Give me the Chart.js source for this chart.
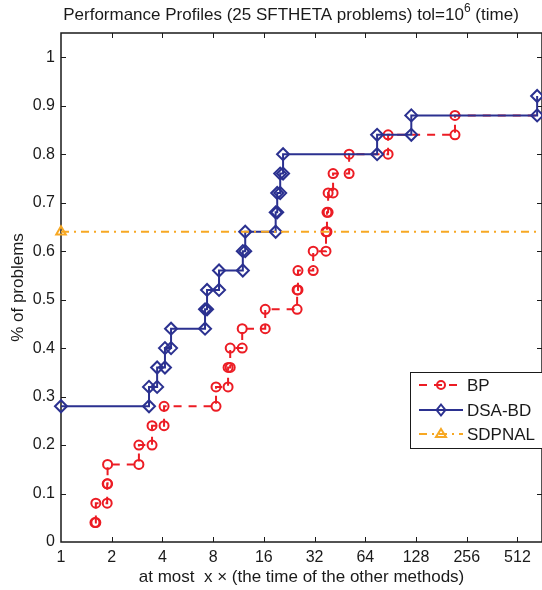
<!DOCTYPE html>
<html>
<head>
<meta charset="utf-8">
<script src="https://cdn.jsdelivr.net/npm/chart.js@4.4.0/dist/chart.umd.min.js"></script>
<style>
  html, body { margin: 0; padding: 0; background: #fff; }
  #wrap { width: 542px; height: 590px; }
</style>
</head>
<body>
<div id="wrap"><canvas id="profileChart" width="542" height="590"></canvas></div>
<script>
const PROBLEMS = 25;
const methodNames = ['BP', 'DSA-BD', 'SDPNAL'];
const methodColors = ['#ec1c24', '#2b3190', '#f7a823'];

// sorted time ratios of the problems each method solved
const bpRatios = [1.59, 1.61, 1.88, 1.89, 2.90, 3.47, 4.09, 8.32, 9.81, 10.1, 11.9,
                  16.3, 25.2, 25.5, 31.4, 37.4, 37.9, 38.5, 41.2, 51.3, 87.4, 218];
const dsaRatios = [1, 1, 1, 1, 1, 1, 1, 3.33, 3.72, 4.14, 4.50, 7.16, 7.36, 8.67,
                   12.0, 12.4, 18.8, 19.2, 20.0, 20.8, 75.2, 120, 670];
const sdpnalRatios = [1, 1, 1, 1, 1, 1, 1, 1, 1, 1, 1, 1, 1, 1, 1, 1];
const maxRatio = 670;

const xTicks = [1, 2, 4, 8, 16, 32, 64, 128, 256, 512];
const yTicks = [0, 0.1, 0.2, 0.3, 0.4, 0.5, 0.6, 0.7, 0.8, 0.9, 1];
const xMax = 716;
const yMax = 1.05;

const FONT = '"Liberation Sans", Arial, Helvetica, sans-serif';

// stair points of a profile, markers sit on both corners of each step
function stairs(ratios) {
  const pts = [];
  ratios.forEach((r, i) => {
    const y = (i + 1) / PROBLEMS;
    const last = pts[pts.length - 1];
    if (last && last.x === r) { last.y = y; return; }
    if (last) pts.push({ x: r, y: last.y });
    pts.push({ x: r, y: y });
  });
  const last = pts[pts.length - 1];
  if (last.x < maxRatio) pts.push({ x: maxRatio, y: last.y, end: true });
  return pts;
}

const styles = [
  { dash: [8, 7], marker: 'circle', radius: 4.5 },
  { dash: [], marker: 'rectRot', radius: 6 },
  { dash: [8, 5, 2, 5], marker: 'triangle', radius: 5.5 }
];

const datasets = [bpRatios, dsaRatios, sdpnalRatios].map((ratios, i) => ({
  label: methodNames[i],
  data: stairs(ratios),
  borderColor: methodColors[i],
  borderWidth: 2,
  borderDash: styles[i].dash,
  pointStyle: styles[i].marker,
  pointRadius: ctx => (ctx.raw && ctx.raw.end) ? 0 : styles[i].radius,
  pointBorderWidth: 2,
  pointBorderColor: methodColors[i],
  pointBackgroundColor: 'rgba(0,0,0,0)',
  pointHoverRadius: 0,
  fill: false,
  tension: 0,
  clip: 12,
  order: 3 - i
}));

function drawMarker(ctx, style, x, y, r) {
  ctx.beginPath();
  if (style === 'circle') {
    ctx.arc(x, y, r, 0, Math.PI * 2);
  } else if (style === 'rectRot') {
    ctx.moveTo(x, y - r); ctx.lineTo(x + r * 0.8, y);
    ctx.lineTo(x, y + r); ctx.lineTo(x - r * 0.8, y); ctx.closePath();
  } else {
    ctx.moveTo(x, y - r); ctx.lineTo(x + r, y + r * 0.6);
    ctx.lineTo(x - r, y + r * 0.6); ctx.closePath();
  }
  ctx.stroke();
}

const framePlugin = {
  id: 'frame',
  beforeDatasetsDraw(chart) {
    const { ctx, chartArea: a, scales } = chart;
    ctx.save();
    ctx.strokeStyle = '#1a1a1a';
    ctx.lineWidth = 1.5;
    ctx.strokeRect(a.left, a.top, a.right - a.left, a.bottom - a.top);
    ctx.lineWidth = 1;
    ctx.beginPath();
    xTicks.forEach(v => {
      const px = Math.round(scales.x.getPixelForValue(v)) + 0.5;
      if (px < a.left + 2) return;
      ctx.moveTo(px, a.bottom); ctx.lineTo(px, a.bottom - 5);
      ctx.moveTo(px, a.top); ctx.lineTo(px, a.top + 5);
    });
    yTicks.forEach(v => {
      const py = Math.round(scales.y.getPixelForValue(v)) + 0.5;
      if (py > a.bottom - 2) return;
      ctx.moveTo(a.left, py); ctx.lineTo(a.left + 5, py);
      ctx.moveTo(a.right, py); ctx.lineTo(a.right - 5, py);
    });
    ctx.stroke();
    ctx.restore();
  },
  afterDraw(chart) {
    const { ctx } = chart;
    ctx.save();
    // title with superscript exponent
    const mainFont = '17px ' + FONT;
    const supFont = '12px ' + FONT;
    const t1 = 'Performance Profiles (25 SFTHETA problems) tol=10';
    const t2 = '6';
    const t3 = ' (time)';
    ctx.font = mainFont;
    const w1 = ctx.measureText(t1).width, w3 = ctx.measureText(t3).width;
    ctx.font = supFont;
    const w2 = ctx.measureText(t2).width;
    let x = 291 - (w1 + w2 + w3) / 2;
    const ty = 15;
    ctx.fillStyle = '#1a1a1a';
    ctx.textBaseline = 'middle';
    ctx.textAlign = 'left';
    ctx.font = mainFont; ctx.fillText(t1, x, ty); x += w1;
    ctx.font = supFont; ctx.fillText(t2, x, ty - 6); x += w2;
    ctx.font = mainFont; ctx.fillText(t3, x, ty);

    // legend box
    const bx = 410.5, by = 372.5, bw = 132, bh = 76;
    ctx.fillStyle = '#fff';
    ctx.fillRect(bx, by, bw, bh);
    ctx.strokeStyle = '#1a1a1a';
    ctx.lineWidth = 1;
    ctx.strokeRect(bx, by, bw, bh);
    const rowY = [385, 410, 434];
    methodNames.forEach((name, i) => {
      const y = rowY[i];
      ctx.strokeStyle = methodColors[i];
      ctx.lineWidth = 2;
      ctx.setLineDash(styles[i].dash);
      ctx.beginPath(); ctx.moveTo(419, y); ctx.lineTo(463, y); ctx.stroke();
      ctx.setLineDash([]);
      drawMarker(ctx, styles[i].marker, 441, y, styles[i].radius - 0.5);
      ctx.fillStyle = '#1a1a1a';
      ctx.font = '17px ' + FONT;
      ctx.fillText(name, 467, y + 1);
    });
    ctx.restore();
  }
};

new Chart(document.getElementById('profileChart'), {
  type: 'line',
  data: { datasets: datasets },
  options: {
    responsive: false,
    animation: false,
    events: [],
    layout: { autoPadding: false, padding: { top: 33, right: 0, left: 0, bottom: 0 } },
    plugins: { legend: { display: false }, tooltip: { enabled: false }, title: { display: false } },
    scales: {
      x: {
        type: 'logarithmic',
        min: 1,
        max: xMax,
        afterBuildTicks: scale => { scale.ticks = xTicks.map(v => ({ value: v })); },
        afterFit: scale => { scale.height = 48; scale.paddingLeft = 0; scale.paddingRight = 0; },
        grid: { display: false, drawTicks: false },
        border: { display: false },
        ticks: {
          autoSkip: false, maxRotation: 0, padding: 6,
          color: '#1a1a1a', font: { family: FONT, size: 16 },
          callback: v => String(v)
        },
        title: {
          display: true, text: 'at most  x \u00d7 (the time of the other methods)',
          color: '#1a1a1a', font: { family: FONT, size: 17 },
          padding: { top: 0, bottom: 2 }
        }
      },
      y: {
        type: 'linear',
        min: 0,
        max: yMax,
        afterBuildTicks: scale => { scale.ticks = yTicks.map(v => ({ value: v })); },
        afterFit: scale => { scale.width = 61; scale.paddingTop = 0; scale.paddingBottom = 0; },
        grid: { display: false, drawTicks: false },
        border: { display: false },
        ticks: {
          padding: 6, color: '#1a1a1a', font: { family: FONT, size: 16 },
          callback: v => String(Math.round(v * 10) / 10)
        },
        title: {
          display: true, text: '% of problems',
          color: '#1a1a1a', font: { family: FONT, size: 17 },
          padding: { top: 8, bottom: 0 }
        }
      }
    }
  },
  plugins: [framePlugin]
});
</script>
</body>
</html>
